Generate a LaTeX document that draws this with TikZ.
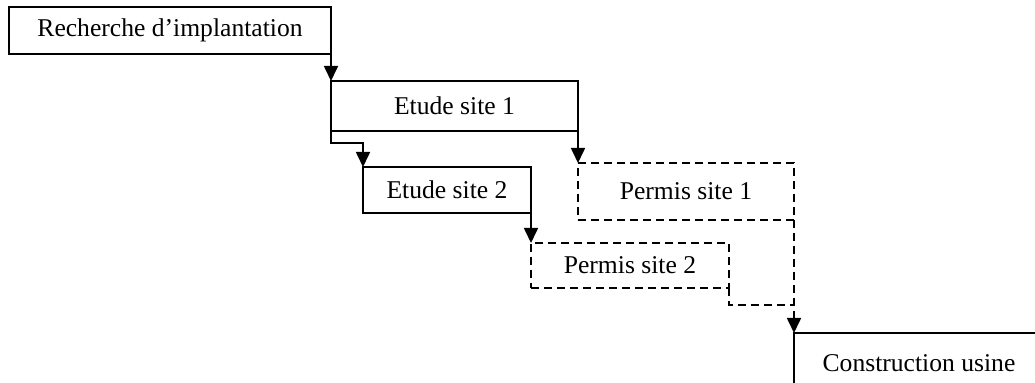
\documentclass[tikz,border=0pt]{standalone}
\usepackage{fontspec}
\setmainfont{Liberation Serif}
\usepackage{tikz}
\usetikzlibrary{arrows.meta,positioning,calc}

\begin{document}
\begin{tikzpicture}[every node/.style={font=\fontsize{12.8}{15}\selectfont},
    task/.style={draw,line width=0.85pt,inner sep=0pt,outer sep=0pt,align=center},
    permis/.style={task,dash pattern=on 4pt off 2.5pt},
    link/.style={line width=0.85pt,-{Triangle[length=7.5pt,width=7pt]}},
    dlink/.style={link,dash pattern=on 4pt off 2.5pt}]
  \useasboundingbox (0,0) rectangle (517.5pt,-191.5pt);
  \node[task,anchor=north west,minimum width=161pt,minimum height=23.5pt]
       (rech) at (4.5pt,-3.5pt) {Recherche d'implantation};
  \node[task,minimum width=123.5pt,minimum height=25pt,
        below right=13.5pt and 0pt of rech] (site1) {Etude site 1};
  \node[task,minimum width=84pt,minimum height=23pt,
        below right=18pt and 16pt of site1.south west,anchor=north west] (site2) {Etude site 2};
  \node[permis,minimum width=108pt,minimum height=28.5pt,
        below right=16pt and 0pt of site1] (perm1) {Permis site 1};
  \node[permis,minimum width=99pt,minimum height=22.5pt,
        below right=15pt and 0pt of site2] (perm2) {Permis site 2};
  \node[task,minimum width=125pt,minimum height=30pt,
        below right=56.5pt and 0pt of perm1] (usine) {Construction usine};
  \coordinate (join) at ($(perm1.south east)!0.75!(usine.north west)$);
  % liens
  \draw[link] (rech.south east) -- (site1.north west);
  \draw[link] (site1.south west) -- ++(0,-6pt) -| (site2.north west);
  \draw[link] (site1.south east) -- (perm1.north west);
  \draw[link] (site2.south east) -- (perm2.north west);
  \draw[dlink] (perm1.south east) -- (usine.north west);
  \draw[line width=0.85pt,dash pattern=on 4pt off 2.5pt] (perm2.south east) |- (join);
\end{tikzpicture}
\end{document}
